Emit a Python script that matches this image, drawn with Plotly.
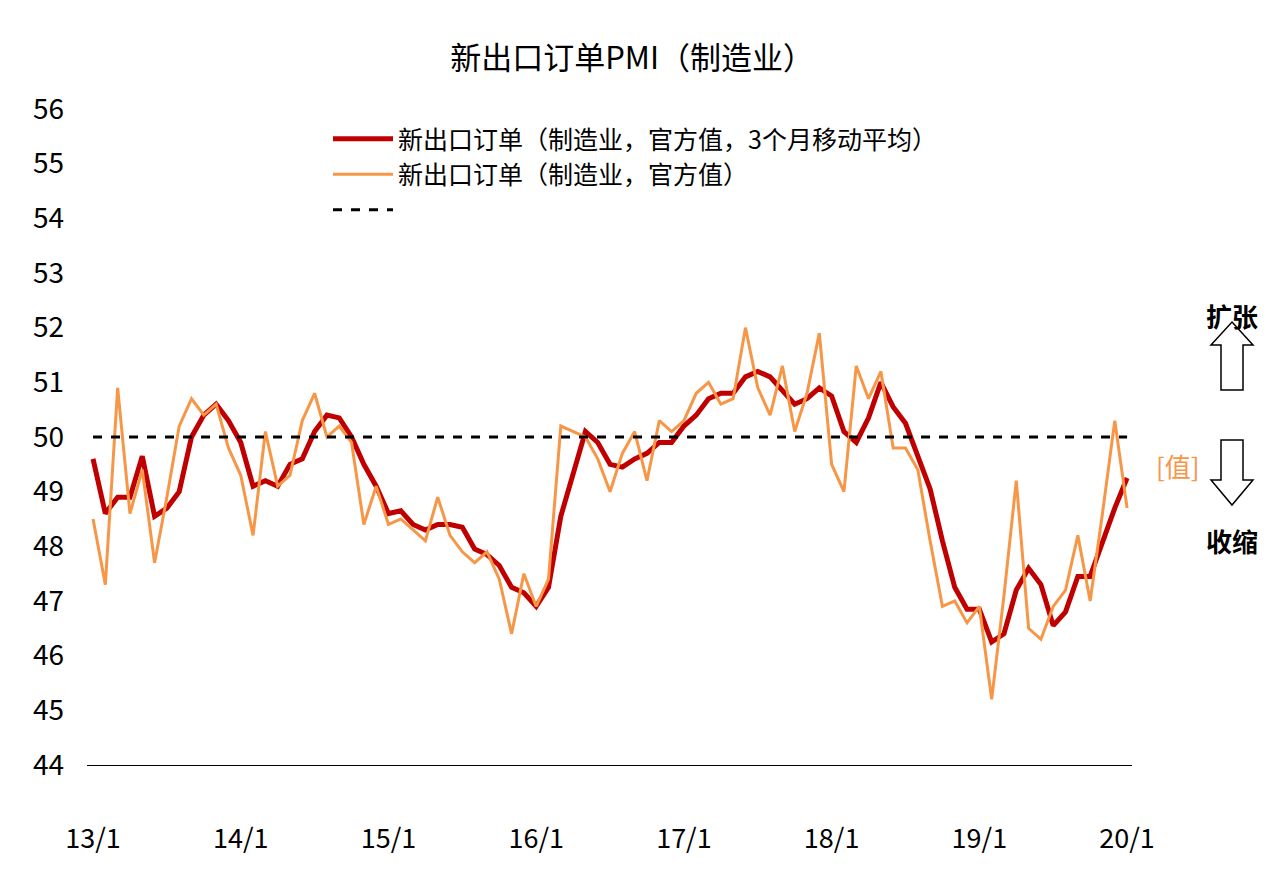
import plotly.graph_objects as go

months = list(range(85))
tick_pos = [0, 12, 24, 36, 48, 60, 72, 84]
tick_text = ["13/1", "14/1", "15/1", "16/1", "17/1", "18/1", "19/1", "20/1"]

pmi_export = [48.5,47.3,50.9,48.6,49.4,47.7,48.9,50.2,50.7,50.4,50.6,49.8,
              49.3,48.2,50.1,49.1,49.3,50.3,50.8,50.0,50.2,49.9,48.4,49.1,
              48.4,48.5,48.3,48.1,48.9,48.2,47.9,47.7,47.9,47.4,46.4,47.5,
              46.9,47.4,50.2,50.1,50.0,49.6,49.0,49.7,50.1,49.2,50.3,50.1,
              50.3,50.8,51.0,50.6,50.7,52.0,50.9,50.4,51.3,50.1,50.8,51.9,
              49.5,49.0,51.3,50.7,51.2,49.8,49.8,49.4,48.1,46.9,47.0,46.6,
              46.9,45.2,47.1,49.2,46.5,46.3,46.9,47.2,48.2,47.0,48.6,50.3,
              48.7]
pmi_export_ma3 = [49.6,48.6,48.9,48.9,49.65,48.55,48.7,49.0,50.0,50.4,50.6,50.3,
                  49.9,49.1,49.2,49.1,49.5,49.6,50.1,50.4,50.35,50.0,49.5,49.1,
                  48.6,48.65,48.4,48.3,48.4,48.4,48.35,47.95,47.85,47.65,47.25,47.15,
                  46.9,47.25,48.55,49.35,50.1,49.9,49.5,49.45,49.6,49.7,49.9,49.9,
                  50.2,50.4,50.7,50.8,50.8,51.1,51.2,51.1,50.85,50.6,50.7,50.9,
                  50.75,50.1,49.9,50.35,51.0,50.55,50.25,49.65,49.05,48.1,47.25,46.85,
                  46.85,46.25,46.4,47.2,47.6,47.3,46.55,46.8,47.45,47.45,48.1,48.7,
                  49.25]
baseline = [50.0] * 85

OFF = 8
L, R, T, B = 87, 1132, 109, 765
def px(x): return (x - L) / (R - L)
def py(y): return (B - y) / (B - T)
def path(pts):
    return "M " + " L ".join(f"{px(x):.5f},{py(y):.5f}" for x, y in pts) + " Z"

fig = go.Figure()
fig.add_trace(go.Scatter(x=months, y=pmi_export_ma3, mode="lines",
                         name="新出口订单（制造业，官方值，3个月移动平均）",
                         line=dict(color="#C00000", width=5)))
fig.add_trace(go.Scatter(x=months, y=pmi_export, mode="lines",
                         name="新出口订单（制造业，官方值）",
                         line=dict(color="#F79646", width=3)))
fig.add_trace(go.Scatter(x=months, y=baseline, mode="lines", name=" ",
                         line=dict(color="black", width=3, dash="dash")))

up = [(1232,322),(1253,345),(1243,345),(1243,390),(1221,390),(1221,345),(1211,345)]
down = [(1221,440),(1243,440),(1243,480),(1253,480),(1232,505),(1211,480),(1221,480)]
shapes = [dict(type="path", xref="paper", yref="paper", path=path(p),
               line=dict(color="black", width=1.5), fillcolor="white") for p in (up, down)]

annotations = [
    dict(text="<b>扩张</b>", x=px(1232), y=py(295), xref="paper", yref="paper", showarrow=False,
         font=dict(size=26, color="black", family="Noto Sans CJK SC"), xanchor="center"),
    dict(text="<b>收缩</b>", x=px(1232), y=py(540), xref="paper", yref="paper", showarrow=False,
         font=dict(size=26, color="black", family="Noto Sans CJK SC"), xanchor="center"),
    dict(text="[值]", x=px(1178), y=py(465), xref="paper", yref="paper", showarrow=False,
         font=dict(size=26, color="#F79646", family="Noto Sans CJK SC"), xanchor="center"),
]

fig.update_layout(
    width=1287, height=879,
    margin=dict(l=L - OFF, r=1287 - R + OFF, t=T - OFF, b=879 - B + OFF),
    paper_bgcolor="white", plot_bgcolor="white",
    font=dict(family="Noto Sans CJK SC", size=27, color="black"),
    title=dict(text="新出口订单PMI（制造业）", x=0.485, xanchor="center", y=0.955,
               font=dict(size=31, color="black")),
    showlegend=True,
    legend=dict(x=px(328), y=py(116), xanchor="left", yanchor="top",
                bgcolor="rgba(0,0,0,0)", font=dict(size=25), tracegroupgap=0,
                itemwidth=60),
    shapes=shapes, annotations=annotations,
)
fig.update_xaxes(range=[-0.49, 84.4], tickvals=tick_pos, ticktext=tick_text,
                 showgrid=False, zeroline=False, showline=True, linecolor="black",
                 linewidth=1, ticks="", ticklabelstandoff=50, tickfont=dict(size=27))
fig.update_yaxes(range=[44, 56], dtick=1, showgrid=False, zeroline=False,
                 showline=False, ticks="", ticklabelstandoff=22, tickfont=dict(size=28))
fig.write_html("out.html")
